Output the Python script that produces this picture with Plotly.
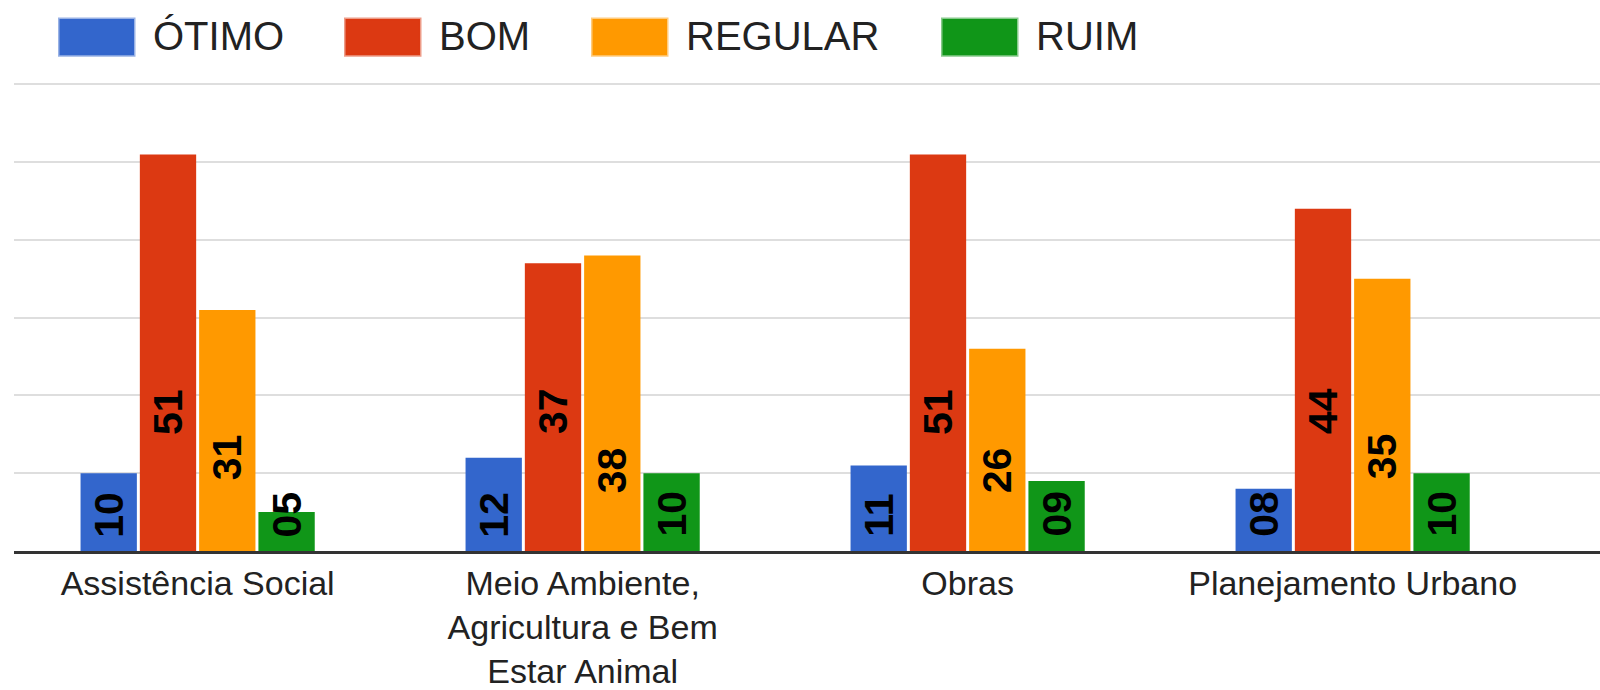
import plotly.graph_objects as go

categories = ["Assistência Social", "Meio Ambiente,<br>Agricultura e Bem<br>Estar Animal", "Obras", "Planejamento Urbano"]
series_names = ["ÓTIMO", "BOM", "REGULAR", "RUIM"]
otimo = [10, 12, 11, 8]
bom = [51, 37, 51, 44]
regular = [31, 38, 26, 35]
ruim = [5, 10, 9, 10]
colors = ["#3366cc", "#dc3912", "#ff9900", "#109618"]

# style: height (px above baseline) of each value label's centre, per series then per category
label_lift = [
    [36, 36, 36, 37],
    [139, 140, 139, 140],
    [94, 81, 81, 95],
    [36, 37, 37, 37],
]

W, H = 1600, 690
ML, MR, MT, MB = 14, 0, 78, 135
PW, PH = W - ML - MR, H - MT - MB
PX_PER_CAT = 385.0
PX_PER_UNIT = 7.842
BARGAP, BARGROUPGAP = 0.384, 0.05

def px_x(p):
    return (p - ML) / PW

def px_y(p):
    return (H - MB - p) / PH

fig = go.Figure()
all_series = [otimo, bom, regular, ruim]
n = len(all_series)
pitch = (1 - BARGAP) * PX_PER_CAT / n
annotations = []
for si, (name, vals, col) in enumerate(zip(series_names, all_series, colors)):
    fig.add_trace(go.Bar(
        x=categories, y=vals, name=name, marker=dict(color=col, line=dict(width=0)),
        showlegend=False, hoverinfo="skip",
    ))
    for ci, (cat, v) in enumerate(zip(categories, vals)):
        annotations.append(dict(
            x=cat, y=0, xref="x", yref="y", text=f"<b>{v:02d}</b>", showarrow=False,
            textangle=-90, xanchor="center", yanchor="middle",
            xshift=(si - (n - 1) / 2) * pitch, yshift=label_lift[si][ci],
            font=dict(family="Liberation Sans, Arial, sans-serif", size=41, color="#000000"),
        ))

# custom legend (large swatches like the original)
legend_box_x = [58, 344, 591, 941]
shapes = []
for name, col, bx in zip(series_names, colors, legend_box_x):
    r, g, b = int(col[1:3], 16), int(col[3:5], 16), int(col[5:7], 16)
    shapes.append(dict(type="rect", xref="paper", yref="paper",
                       x0=px_x(bx + 1.5), x1=px_x(bx + 76), y0=px_y(55), y1=px_y(18.5),
                       fillcolor=col, line=dict(color=f"rgba({r},{g},{b},0.5)", width=3), layer="above"))
    annotations.append(dict(xref="paper", yref="paper", x=px_x(bx + 93), y=px_y(36),
                            xanchor="left", yanchor="middle", text=name, showarrow=False,
                            font=dict(family="Liberation Sans, Arial, sans-serif", size=40, color="#222222")))

fig.update_layout(
    width=W, height=H,
    margin=dict(l=ML, r=MR, t=MT, b=MB, pad=0),
    paper_bgcolor="white", plot_bgcolor="white",
    barmode="group", bargap=BARGAP, bargroupgap=BARGROUPGAP,
    shapes=shapes, annotations=annotations,
    xaxis=dict(range=[-0.477, -0.477 + PW / PX_PER_CAT], showgrid=False, showline=True,
               linecolor="#333333", linewidth=3, ticks="", zeroline=False,
               tickfont=dict(family="Liberation Sans, Arial, sans-serif", size=34, color="#222222")),
    yaxis=dict(range=[0, PH / PX_PER_UNIT], dtick=10, tick0=0, showticklabels=False,
               showgrid=True, gridcolor="#dedede", gridwidth=2, zeroline=False, showline=False),
    font=dict(family="Liberation Sans, Arial, sans-serif"),
)

fig.write_html("out.html", config={"displayModeBar": False},
               post_script="document.body.style.margin='0';document.body.style.overflow='hidden';")
